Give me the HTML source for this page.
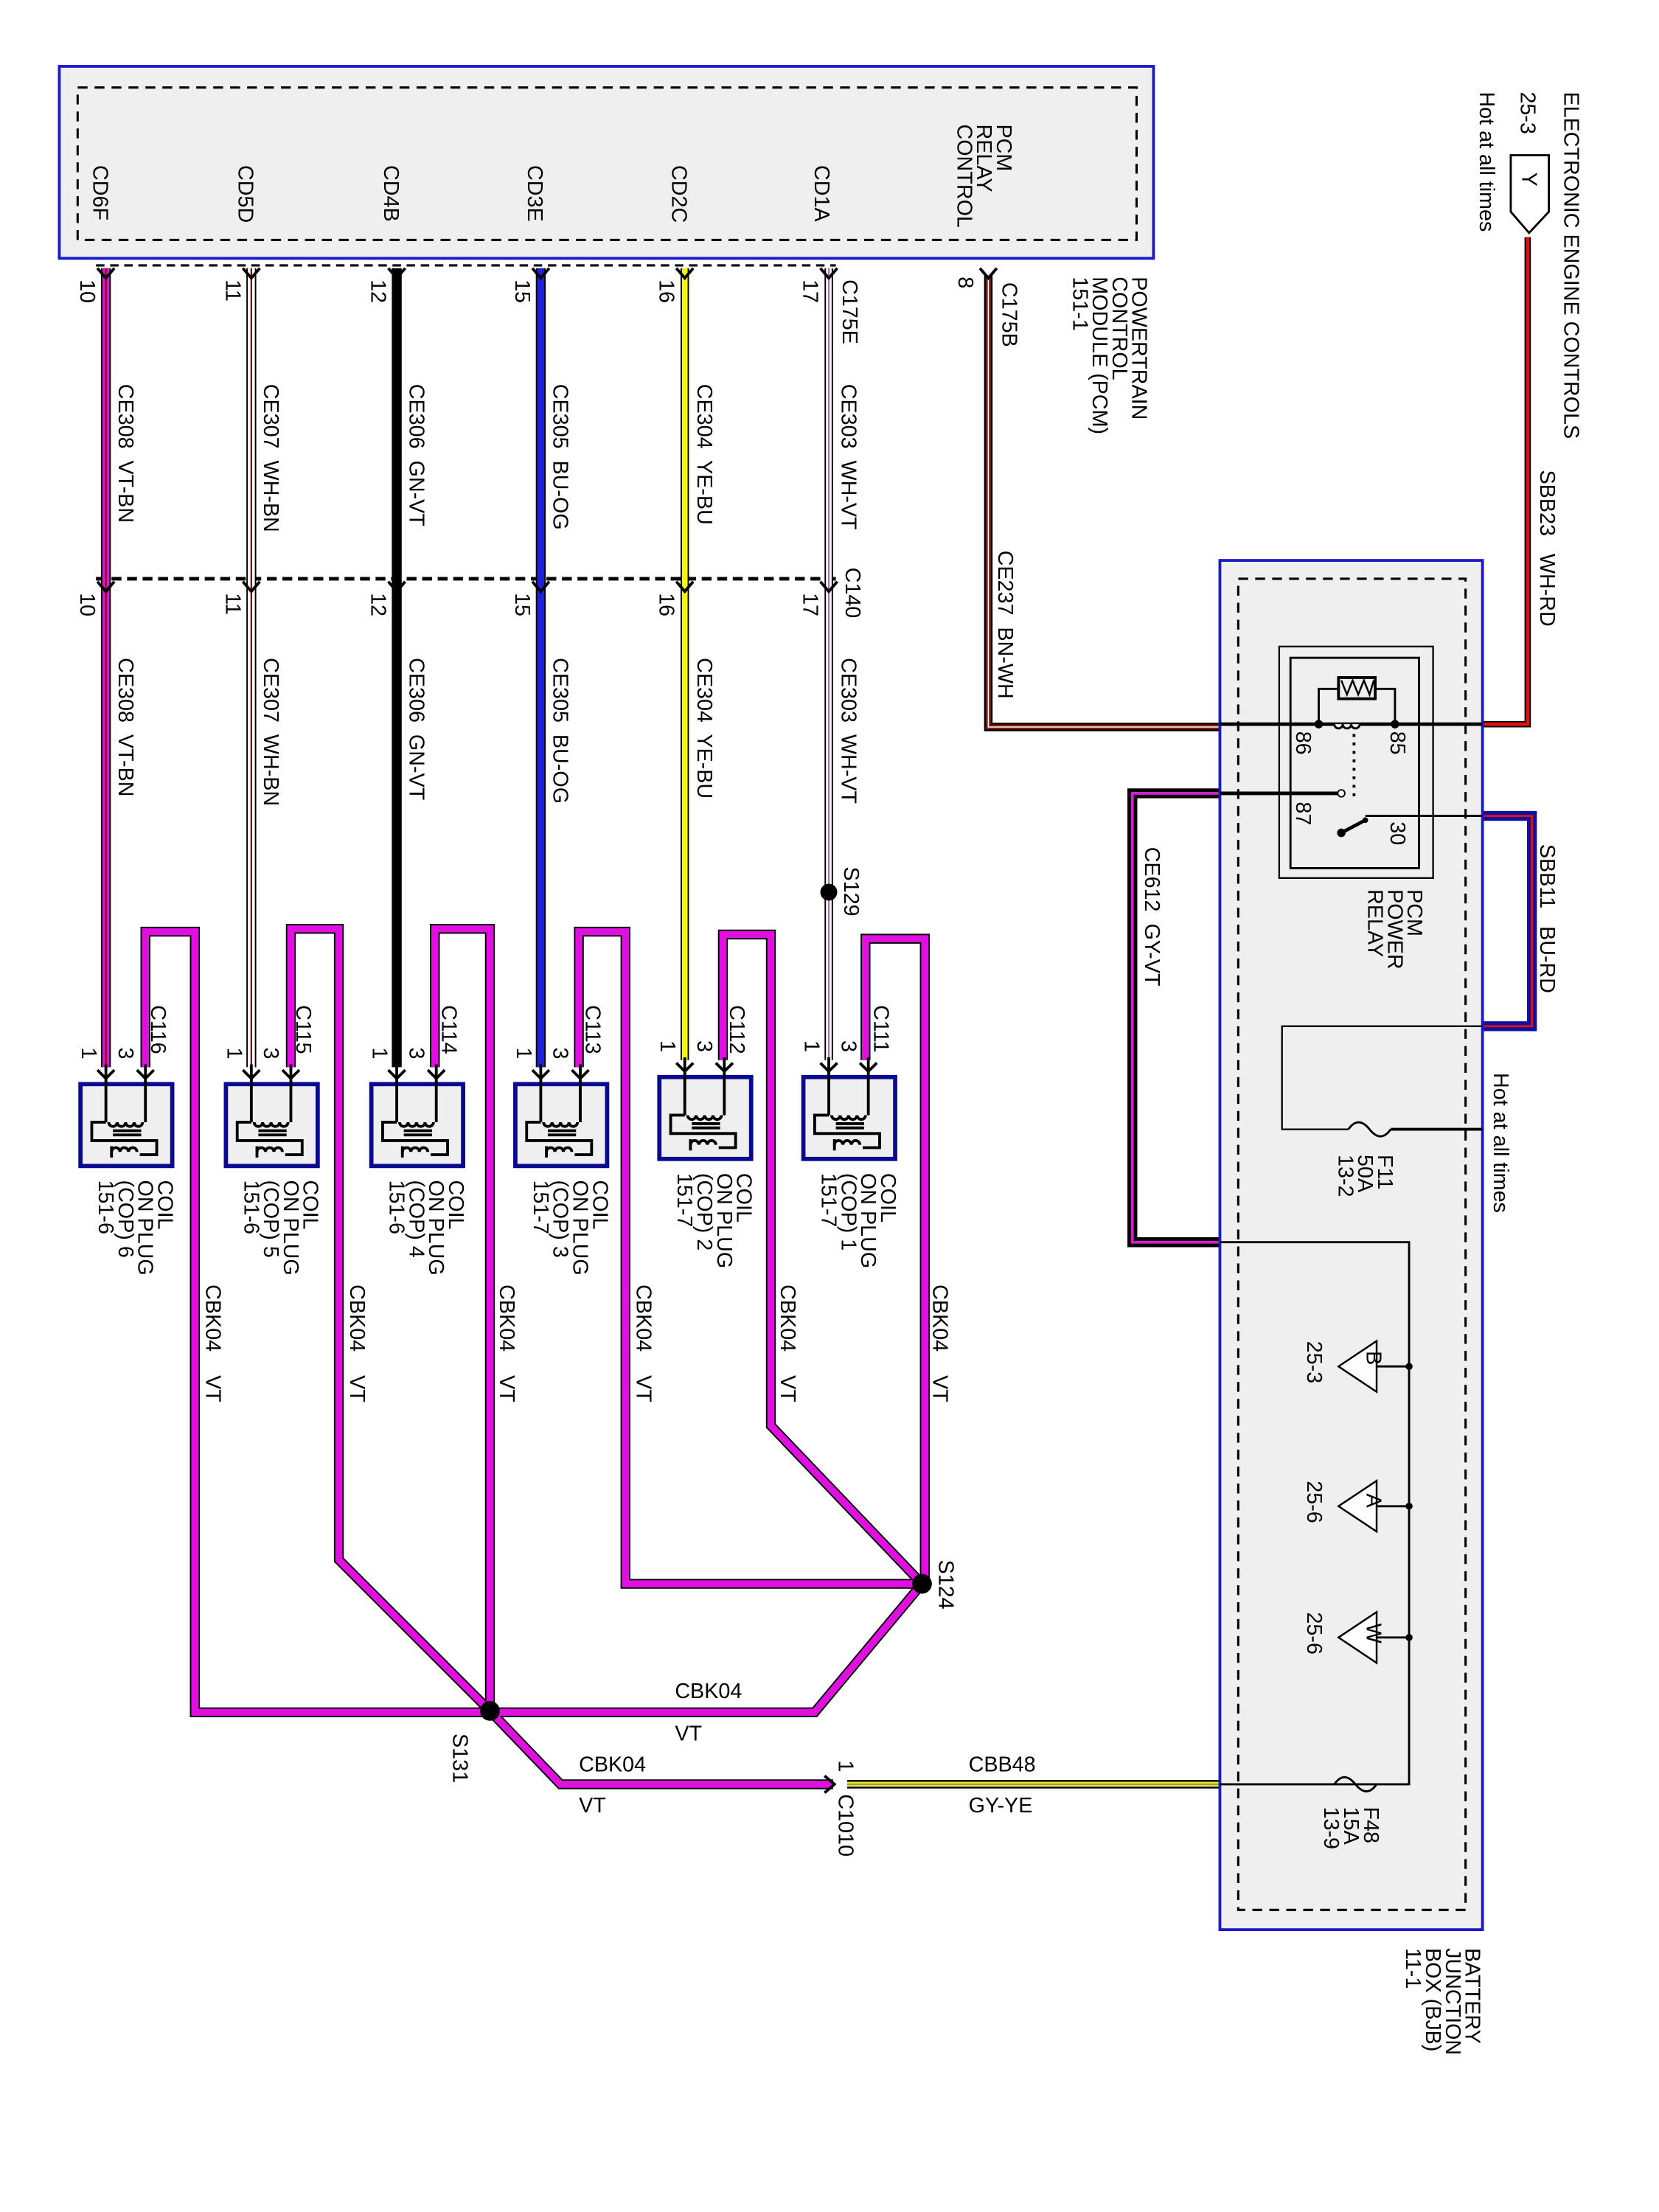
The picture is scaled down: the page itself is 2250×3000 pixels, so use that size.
<!DOCTYPE html>
<html><head><meta charset="utf-8"><style>
html,body{margin:0;padding:0;background:#fff}
svg{display:block}
text{font-family:"Liberation Sans",Arial,sans-serif;font-size:15px;fill:#000}
</style></head><body>
<svg width="2250" height="3000" viewBox="0 0 1175 1567" preserveAspectRatio="none" xmlns="http://www.w3.org/2000/svg">
<rect x="0" y="0" width="1175" height="1567" fill="#fff"/>
<rect x="42" y="47" width="775" height="136" fill="#efefef" stroke="#1a1acc" stroke-width="2"/>
<rect x="55" y="62" width="750" height="108" fill="none" stroke="#000" stroke-width="1.6" stroke-dasharray="7,5"/>
<line x1="68" y1="188" x2="592" y2="188" stroke="#000" stroke-width="1.6" stroke-dasharray="6,4"/>
<line x1="68" y1="410" x2="592" y2="410" stroke="#000" stroke-width="2.5" stroke-dasharray="7,4"/>
<g>
<text transform="translate(66,117) rotate(90)">CD6F</text>
<text transform="translate(169,117) rotate(90)">CD5D</text>
<text transform="translate(272,117) rotate(90)">CD4B</text>
<text transform="translate(374,117) rotate(90)">CD3E</text>
<text transform="translate(476,117) rotate(90)">CD2C</text>
<text transform="translate(577,117) rotate(90)">CD1A</text>
<text transform="translate(706,88) rotate(90)">PCM</text>
<text transform="translate(692,88) rotate(90)">RELAY</text>
<text transform="translate(678,88) rotate(90)">CONTROL</text>
<text transform="translate(802,196) rotate(90)">POWERTRAIN</text>
<text transform="translate(788,196) rotate(90)">CONTROL</text>
<text transform="translate(774,196) rotate(90)">MODULE (PCM)</text>
<text transform="translate(760,196) rotate(90)">151-1</text>
</g>
<g fill="none" stroke-linejoin="miter">
<line x1="75" y1="190" x2="75" y2="756" stroke="#000" stroke-width="7"/>
<line x1="75" y1="190" x2="75" y2="756" stroke="#e010e0" stroke-width="5"/>
<line x1="75" y1="190" x2="75" y2="756" stroke="#7a1010" stroke-width="1.2"/>
<line x1="178" y1="190" x2="178" y2="756" stroke="#000" stroke-width="7"/>
<line x1="178" y1="190" x2="178" y2="756" stroke="#fff" stroke-width="5"/>
<line x1="178" y1="190" x2="178" y2="756" stroke="#7a1010" stroke-width="1.2"/>
<line x1="281" y1="190" x2="281" y2="756" stroke="#000" stroke-width="7"/>
<line x1="383" y1="190" x2="383" y2="756" stroke="#000" stroke-width="7"/>
<line x1="383" y1="190" x2="383" y2="756" stroke="#2020d8" stroke-width="5"/>
<line x1="485" y1="190" x2="485" y2="751" stroke="#000" stroke-width="6"/>
<line x1="485" y1="190" x2="485" y2="751" stroke="#f5f510" stroke-width="4"/>
<line x1="587" y1="190" x2="587" y2="751" stroke="#000" stroke-width="6"/>
<line x1="587" y1="190" x2="587" y2="751" stroke="#fff" stroke-width="4"/>
<line x1="587" y1="190" x2="587" y2="751" stroke="#b060b0" stroke-width="1"/>
<polyline points="700,195 700,515 864,515" stroke="#000" stroke-width="6"/>
<polyline points="700,195 700,515 864,515" stroke="#8a1a10" stroke-width="3.5"/>
<polyline points="700,195 700,515 864,515" stroke="#fff" stroke-width="0.8"/>
<polyline points="1082,168 1082,513 864,513" stroke="#000" stroke-width="4.5"/>
<polyline points="1082,168 1082,513 864,513" stroke="#e01010" stroke-width="2.5"/>
<polyline points="864,562 802,562 802,880 864,880" stroke="#000" stroke-width="7"/>
<polyline points="864,562 802,562 802,880 864,880" stroke="#d020d0" stroke-width="2"/>
<polyline points="1050,578 1085,578 1085,727 1050,727" stroke="#1010a0" stroke-width="7"/>
<polyline points="1050,578 1085,578 1085,727 1050,727" stroke="#e01010" stroke-width="1.5"/>
<g stroke="#000" stroke-width="7">
<polyline points="103,756 103,660 138,660 138,1213 347,1213"/>
<polyline points="206,756 206,658 240,658 240,1105 347,1212"/>
<polyline points="308,756 308,658 347,658 347,1212"/>
<polyline points="410,756 410,660 443,660 443,1122 653,1122"/>
<polyline points="512,751 512,662 546,662 546,1010 653,1122"/>
<polyline points="613,751 613,665 655,665 655,1122"/>
<polyline points="653,1122 577,1213 347,1213"/>
<polyline points="347,1212 397,1264 590,1264"/>
</g>
<g stroke="#e010e0" stroke-width="5">
<polyline points="103,756 103,660 138,660 138,1213 347,1213"/>
<polyline points="206,756 206,658 240,658 240,1105 347,1212"/>
<polyline points="308,756 308,658 347,658 347,1212"/>
<polyline points="410,756 410,660 443,660 443,1122 653,1122"/>
<polyline points="512,751 512,662 546,662 546,1010 653,1122"/>
<polyline points="613,751 613,665 655,665 655,1122"/>
<polyline points="653,1122 577,1213 347,1213"/>
<polyline points="347,1212 397,1264 590,1264"/>
</g>
<line x1="600" y1="1264" x2="864" y2="1264" stroke="#000" stroke-width="6"/>
<line x1="600" y1="1264" x2="864" y2="1264" stroke="#e8e830" stroke-width="3.5"/>
<line x1="600" y1="1264" x2="864" y2="1264" stroke="#777" stroke-width="0.8"/>
</g>
<g stroke="#000" stroke-width="2" fill="none">
<path d="M69,190 l6,7 l6,-7 M172,190 l6,7 l6,-7 M275,190 l6,7 l6,-7 M377,190 l6,7 l6,-7 M479,190 l6,7 l6,-7 M581,190 l6,7 l6,-7 M694,190 l6,7 l6,-7"/>
<path d="M69,412 l6,7 l6,-7 M172,412 l6,7 l6,-7 M275,412 l6,7 l6,-7 M377,412 l6,7 l6,-7 M479,412 l6,7 l6,-7 M581,412 l6,7 l6,-7"/>
<path d="M584,1258 l7,6 l-7,6"/>
</g>
<g>
<text transform="translate(57,198) rotate(90)">10</text>
<text transform="translate(160,198) rotate(90)">11</text>
<text transform="translate(263,198) rotate(90)">12</text>
<text transform="translate(365,198) rotate(90)">15</text>
<text transform="translate(467,198) rotate(90)">16</text>
<text transform="translate(569,198) rotate(90)">17</text>
<text transform="translate(679,196) rotate(90)">8</text>
<text transform="translate(597,198) rotate(90)">C175E</text>
<text transform="translate(710,200) rotate(90)">C175B</text>
<text transform="translate(57,420) rotate(90)">10</text>
<text transform="translate(160,420) rotate(90)">11</text>
<text transform="translate(263,420) rotate(90)">12</text>
<text transform="translate(365,420) rotate(90)">15</text>
<text transform="translate(467,420) rotate(90)">16</text>
<text transform="translate(569,420) rotate(90)">17</text>
<text transform="translate(599,402) rotate(90)">C140</text>
<text transform="translate(84,272) rotate(90)" xml:space="preserve">CE308  VT-BN</text>
<text transform="translate(187,272) rotate(90)" xml:space="preserve">CE307  WH-BN</text>
<text transform="translate(290,272) rotate(90)" xml:space="preserve">CE306  GN-VT</text>
<text transform="translate(392,272) rotate(90)" xml:space="preserve">CE305  BU-OG</text>
<text transform="translate(494,272) rotate(90)" xml:space="preserve">CE304  YE-BU</text>
<text transform="translate(596,272) rotate(90)" xml:space="preserve">CE303  WH-VT</text>
<text transform="translate(84,466) rotate(90)" xml:space="preserve">CE308  VT-BN</text>
<text transform="translate(187,466) rotate(90)" xml:space="preserve">CE307  WH-BN</text>
<text transform="translate(290,466) rotate(90)" xml:space="preserve">CE306  GN-VT</text>
<text transform="translate(392,466) rotate(90)" xml:space="preserve">CE305  BU-OG</text>
<text transform="translate(494,466) rotate(90)" xml:space="preserve">CE304  YE-BU</text>
<text transform="translate(596,466) rotate(90)" xml:space="preserve">CE303  WH-VT</text>
<text transform="translate(707,390) rotate(90)" xml:space="preserve">CE237  BN-WH</text>
<text transform="translate(811,600) rotate(90)" xml:space="preserve">CE612  GY-VT</text>
<text transform="translate(1091,333) rotate(90)" xml:space="preserve">SBB23   WH-RD</text>
<text transform="translate(1091,598) rotate(90)" xml:space="preserve">SBB11   BU-RD</text>
<text transform="translate(1108,65) rotate(90)">ELECTRONIC ENGINE CONTROLS</text>
<text transform="translate(1077,65) rotate(90)">25-3</text>
<text transform="translate(1048,65) rotate(90)">Hot at all times</text>
<text transform="translate(1058,760) rotate(90)">Hot at all times</text>
</g>
<circle cx="587" cy="632" r="6"/>
<circle cx="653" cy="1122" r="7"/>
<circle cx="347" cy="1212" r="7"/>
<text transform="translate(598,614) rotate(90)">S129</text>
<text transform="translate(665,1105) rotate(90)">S124</text>
<text transform="translate(321,1228) rotate(90)">S131</text>
<text x="478" y="1203">CBK04</text>
<text x="478" y="1233">VT</text>
<text x="410" y="1255">CBK04</text>
<text x="410" y="1284">VT</text>
<text x="686" y="1255">CBB48</text>
<text x="686" y="1284">GY-YE</text>
<text transform="translate(594,1247) rotate(90)">1</text>
<text transform="translate(594,1271) rotate(90)">C1010</text>
<g>
<text transform="translate(146,910) rotate(90)" xml:space="preserve">CBK04    VT</text>
<text transform="translate(248,910) rotate(90)" xml:space="preserve">CBK04    VT</text>
<text transform="translate(354,910) rotate(90)" xml:space="preserve">CBK04    VT</text>
<text transform="translate(451,910) rotate(90)" xml:space="preserve">CBK04    VT</text>
<text transform="translate(553,910) rotate(90)" xml:space="preserve">CBK04    VT</text>
<text transform="translate(661,910) rotate(90)" xml:space="preserve">CBK04    VT</text>
</g>
<path d="M1070,110 L1097,110 L1097,150 L1083,165 L1070,150 Z" fill="#fff" stroke="#000" stroke-width="1.5"/>
<text transform="translate(1078,122) rotate(90)">Y</text>
<rect x="864" y="397" width="186" height="970" fill="#efefef" stroke="#1a1acc" stroke-width="2"/>
<rect x="877" y="410" width="161" height="943" fill="none" stroke="#000" stroke-width="1.6" stroke-dasharray="7,5"/>
<rect x="906" y="458" width="109" height="164" fill="none" stroke="#000" stroke-width="1.2"/>
<rect x="914" y="466" width="91" height="149" fill="none" stroke="#000" stroke-width="1.5"/>
<g stroke="#000" fill="none" stroke-width="2">
<line x1="864" y1="513" x2="1050" y2="513" stroke-width="2.5"/>
<line x1="864" y1="562" x2="950" y2="562" stroke-width="2.5"/>
<line x1="967" y1="578" x2="1050" y2="578" stroke-width="1.5"/>
<polyline points="934,513 934,488 988,488 988,513" stroke-width="1.5"/>
<rect x="948" y="480" width="26" height="15" fill="#efefef"/>
<path d="M950,482 l4,10 l4,-10 l4,10 l4,-10 l4,10 l3,-10" stroke-width="1.3"/>
<path d="M945,513 a3,3 0 0 0 6,0 a3,3 0 0 0 6,0 a3,3 0 0 0 6,0" stroke-width="1.5" fill="#efefef"/>
<line x1="959" y1="520" x2="959" y2="568" stroke-dasharray="2,4"/>
<line x1="950" y1="590" x2="967" y2="581" stroke-width="2.5"/>
<polyline points="864,880 998,880 998,1264 864,1264" stroke-width="1.5"/>
<polyline points="1050,727 908,727 908,800 955,800" stroke-width="1.2"/>
<line x1="985" y1="800" x2="1050" y2="800" stroke-width="2"/>
<path d="M955,800 q7,-10 15,0 q8,10 15,0" stroke-width="1.5"/>
<path d="M945,1264 q7,-10 15,0 q8,10 15,0" stroke-width="1.5"/>
<line x1="975" y1="968" x2="998" y2="968" stroke-width="1.5"/>
<line x1="975" y1="1067" x2="998" y2="1067" stroke-width="1.5"/>
<line x1="975" y1="1160" x2="998" y2="1160" stroke-width="1.5"/>
<path d="M975,950 L975,986 L948,968 Z M975,1049 L975,1085 L948,1067 Z M975,1142 L975,1178 L948,1160 Z" fill="#fff" stroke-width="1.3"/>
</g>
<circle cx="934" cy="513" r="3"/><circle cx="988" cy="513" r="3"/>
<circle cx="950" cy="562" r="2.5" fill="#fff" stroke="#000"/>
<circle cx="950" cy="590" r="3"/><circle cx="967" cy="581" r="2"/>
<circle cx="998" cy="968" r="2.5"/><circle cx="998" cy="1067" r="2.5"/><circle cx="998" cy="1160" r="2.5"/>
<g style="font-size:13px">
<text transform="translate(968,957) rotate(90)">B</text>
<text transform="translate(968,1058) rotate(90)">A</text>
<text transform="translate(968,1150) rotate(90)">W</text>
</g>
<g>
<text transform="translate(985,518) rotate(90)">85</text>
<text transform="translate(918,518) rotate(90)">86</text>
<text transform="translate(918,568) rotate(90)">87</text>
<text transform="translate(985,582) rotate(90)">30</text>
<text transform="translate(997,630) rotate(90)">PCM</text>
<text transform="translate(983,630) rotate(90)">POWER</text>
<text transform="translate(969,630) rotate(90)">RELAY</text>
<text transform="translate(976,818) rotate(90)">F11</text>
<text transform="translate(962,818) rotate(90)">50A</text>
<text transform="translate(948,818) rotate(90)">13-2</text>
<text transform="translate(926,950) rotate(90)">25-3</text>
<text transform="translate(926,1049) rotate(90)">25-6</text>
<text transform="translate(926,1142) rotate(90)">25-6</text>
<text transform="translate(966,1280) rotate(90)">F48</text>
<text transform="translate(952,1280) rotate(90)">15A</text>
<text transform="translate(938,1280) rotate(90)">13-9</text>
<text transform="translate(1038,1380) rotate(90)">BATTERY</text>
<text transform="translate(1024,1380) rotate(90)">JUNCTION</text>
<text transform="translate(1010,1380) rotate(90)">BOX (BJB)</text>
<text transform="translate(996,1380) rotate(90)">11-1</text>
</g>
<defs>
<g id="coil">
<path d="M-6,-10 l6,6 l6,-6 M22,-10 l6,6 l6,-6" stroke="#000" stroke-width="2" fill="none"/>
<rect x="-18" y="0" width="65" height="58" fill="#efefef" stroke="#0a0a90" stroke-width="3"/>
<g stroke="#000" stroke-width="2" fill="none">
<line x1="0" y1="-14" x2="0" y2="27"/>
<line x1="28" y1="-14" x2="28" y2="27"/>
<polyline points="0,27 -10,27 -10,40 36,40 36,50 24,50"/>
<path d="M2,27 a3,3 0 0 0 6,0 a3,3 0 0 0 6,0 a3,3 0 0 0 6,0 a3,3 0 0 0 6,0"/>
<line x1="5" y1="33" x2="25" y2="33"/><line x1="5" y1="36" x2="25" y2="36"/>
<path d="M4,48 a3,3 0 0 1 6,0 a3,3 0 0 1 6,0 a3,3 0 0 1 6,0" />
<line x1="4" y1="44" x2="4" y2="52"/>
</g>
</g>
</defs>
<use href="#coil" x="75" y="768"/>
<use href="#coil" x="178" y="768"/>
<use href="#coil" x="281" y="768"/>
<use href="#coil" x="383" y="768"/>
<use href="#coil" x="485" y="763"/>
<use href="#coil" x="587" y="763"/>
<g>
<text transform="translate(58,742) rotate(90)">1</text><text transform="translate(84,742) rotate(90)">3</text><text transform="translate(107,712) rotate(90)">C116</text>
<text transform="translate(161,742) rotate(90)">1</text><text transform="translate(187,742) rotate(90)">3</text><text transform="translate(210,712) rotate(90)">C115</text>
<text transform="translate(264,742) rotate(90)">1</text><text transform="translate(290,742) rotate(90)">3</text><text transform="translate(313,712) rotate(90)">C114</text>
<text transform="translate(366,742) rotate(90)">1</text><text transform="translate(392,742) rotate(90)">3</text><text transform="translate(415,712) rotate(90)">C113</text>
<text transform="translate(468,737) rotate(90)">1</text><text transform="translate(494,737) rotate(90)">3</text><text transform="translate(517,712) rotate(90)">C112</text>
<text transform="translate(570,737) rotate(90)">1</text><text transform="translate(596,737) rotate(90)">3</text><text transform="translate(619,712) rotate(90)">C111</text>
</g>
<g>
<text transform="translate(112,836) rotate(90)">COIL</text><text transform="translate(98,836) rotate(90)">ON PLUG</text><text transform="translate(84,836) rotate(90)">(COP) 6</text><text transform="translate(70,836) rotate(90)">151-6</text>
<text transform="translate(215,836) rotate(90)">COIL</text><text transform="translate(201,836) rotate(90)">ON PLUG</text><text transform="translate(187,836) rotate(90)">(COP) 5</text><text transform="translate(173,836) rotate(90)">151-6</text>
<text transform="translate(318,836) rotate(90)">COIL</text><text transform="translate(304,836) rotate(90)">ON PLUG</text><text transform="translate(290,836) rotate(90)">(COP) 4</text><text transform="translate(276,836) rotate(90)">151-6</text>
<text transform="translate(420,836) rotate(90)">COIL</text><text transform="translate(406,836) rotate(90)">ON PLUG</text><text transform="translate(392,836) rotate(90)">(COP) 3</text><text transform="translate(378,836) rotate(90)">151-7</text>
<text transform="translate(522,831) rotate(90)">COIL</text><text transform="translate(508,831) rotate(90)">ON PLUG</text><text transform="translate(494,831) rotate(90)">(COP) 2</text><text transform="translate(480,831) rotate(90)">151-7</text>
<text transform="translate(624,831) rotate(90)">COIL</text><text transform="translate(610,831) rotate(90)">ON PLUG</text><text transform="translate(596,831) rotate(90)">(COP) 1</text><text transform="translate(582,831) rotate(90)">151-7</text>
</g>
</svg>
</body></html>
